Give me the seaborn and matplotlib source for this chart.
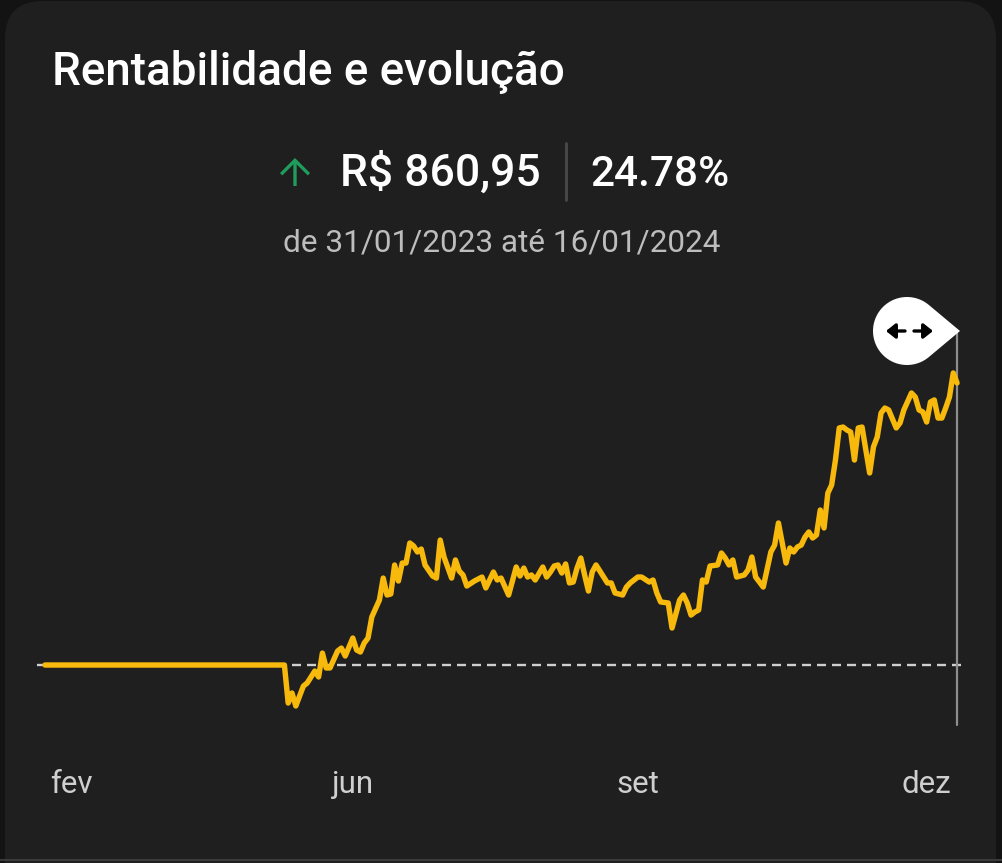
import numpy as np
import pandas as pd
import matplotlib
matplotlib.use("Agg")
import matplotlib.pyplot as plt
import seaborn as sns
from matplotlib.patches import FancyBboxPatch, Polygon, FancyArrowPatch
from matplotlib.lines import Line2D
from matplotlib.transforms import IdentityTransform

# ---------------- data ----------------
title_text = "Rentabilidade e evolução"
amount_label = "R$ 860,95"
pct_label = "24.78%"
period_label = "de 31/01/2023 até 16/01/2024"
month_labels = ["fev", "jun", "set", "dez"]
month_positions = [7, 81, 156, 232]

days = [0, 63, 64, 65, 66, 68, 69, 71, 72, 73, 74, 75, 77, 78, 79, 81, 82, 83, 84, 85,
        86, 88, 89, 90, 91, 92, 93, 94, 95, 96, 97, 98, 99, 100, 102, 103, 104, 105, 107, 108,
        109, 110, 111, 113, 115, 116, 118, 119, 120, 122, 124, 125, 126, 127, 128, 129, 131, 132, 133, 134,
        135, 136, 137, 138, 139, 140, 141, 142, 143, 144, 145, 147, 148, 149, 150, 152, 153, 154, 156, 157,
        159, 160, 161, 162, 164, 165, 167, 168, 169, 170, 171, 172, 173, 174, 175, 177, 178, 179, 180, 181,
        182, 184, 185, 186, 187, 189, 191, 192, 193, 195, 196, 197, 198, 199, 200, 201, 202, 203, 204, 205,
        206, 207, 208, 209, 210, 211, 212, 213, 214, 215, 217, 218, 219, 220, 221, 222, 224, 225, 226, 228,
        229, 230, 231, 232, 233, 234, 235, 236, 237, 238, 239, 240]

returns = [0.00, 0.00, -3.34, -2.46, -3.60, -1.85, -1.58, -0.53, -1.05, 1.05, -0.26, -0.26, 1.23, 1.49, 0.79, 2.37, 1.32, 1.14, 1.93, 2.37,
           4.22, 5.71, 7.64, 6.15, 6.24, 8.79, 7.38, 8.96, 8.96, 10.72, 10.46, 9.93, 10.19, 8.79, 7.82, 7.64, 10.98, 9.49, 7.64, 9.23,
           8.26, 7.91, 6.94, 7.38, 7.73, 6.77, 8.17, 7.47, 7.64, 6.15, 8.61, 7.82, 8.52, 7.73, 7.91, 7.47, 8.61, 7.73, 8.17, 8.70,
           8.79, 8.08, 8.88, 7.21, 7.29, 8.52, 9.40, 7.91, 6.50, 8.17, 8.79, 7.73, 7.21, 7.21, 6.33, 6.15, 6.85, 7.21, 7.73, 7.73,
           7.29, 7.47, 6.33, 5.54, 5.45, 3.25, 5.71, 6.15, 5.45, 4.39, 4.66, 4.83, 7.47, 7.29, 8.70, 8.79, 9.84, 9.40, 8.79, 9.23,
           7.73, 7.91, 8.35, 9.49, 7.73, 6.85, 9.93, 10.54, 12.48, 8.96, 10.28, 9.93, 10.37, 10.54, 11.25, 11.69, 11.16, 11.42, 13.62, 12.04,
           15.11, 15.82, 18.01, 20.83, 20.91, 20.65, 20.47, 18.01, 20.83, 20.91, 16.87, 19.16, 20.04, 22.14, 22.58, 22.41, 20.83, 21.27, 22.41, 23.90,
           23.55, 22.41, 22.23, 21.35, 23.11, 23.29, 21.70, 21.70, 22.58, 23.55, 25.66, 24.78]

df = pd.DataFrame({"day": days, "ret": returns})

# ---------------- style ----------------
W, H = 1002, 863
sns.set_theme(style="dark", rc={
    "axes.facecolor": "#1f1f1f",
    "figure.facecolor": "#131313",
    "axes.edgecolor": "#1f1f1f",
})
plt.rcParams["font.family"] = ["Roboto", "DejaVu Sans"]
plt.rcParams["lines.scale_dashes"] = False

CARD = "#1f1f1f"
YELLOW = "#F7B90C"

fig = plt.figure(figsize=(W / 100, H / 100), dpi=100)
fig.patch.set_facecolor("#131313")

card = FancyBboxPatch((5, -100), 991, H - 1 + 100,
                      boxstyle="round,pad=0,rounding_size=38",
                      transform=IdentityTransform(), fc=CARD, ec="none", zorder=0)
fig.add_artist(card)
fig.add_artist(Line2D([0, W], [H - 860, H - 860], transform=IdentityTransform(),
                      color="#3a3a3a", lw=1.5, zorder=1))

def fx(x):
    return x / W

def fy(y):
    return 1 - y / H

# header texts
fig.text(fx(52), fy(85), title_text, color="white", fontsize=33, fontweight="medium",
         ha="left", va="baseline")
fig.add_artist(FancyArrowPatch((295, H - 186), (295, H - 158), transform=IdentityTransform(),
                               arrowstyle="->,head_length=0.5,head_width=0.5",
                               mutation_scale=20, color="#1f9d5c", lw=2.4,
                               shrinkA=0, shrinkB=0, capstyle="butt", joinstyle="miter"))
fig.text(fx(340), fy(186), amount_label, color="white", fontsize=32, fontweight="medium",
         ha="left", va="baseline")
fig.add_artist(Line2D([566, 566], [H - 143, H - 200], transform=IdentityTransform(),
                      color="#4a4a4a", lw=2))
fig.text(fx(590), fy(186), pct_label, color="white", fontsize=30.5, fontweight="medium",
         ha="left", va="baseline")
fig.text(fx(502), fy(252), period_label, color="#bdbdbd", fontsize=22.7,
         ha="center", va="baseline")

# ---------------- chart ----------------
ax = fig.add_axes([fx(37), fy(730), (962 - 37) / W, 440 / H])
ax.patch.set_alpha(0)

ax.axhline(0, color="#cfcfcf", lw=1.7, linestyle=(0, (6.5, 4.3)), zorder=1)
sns.lineplot(data=df, x="day", y="ret", ax=ax, color=YELLOW, linewidth=3.9,
             zorder=3, legend=False)

ax.set_xlim(-2.1, 241.3)
ax.set_ylim(-5.71, 32.95)
ax.axvline(days[-1], ymin=5 / 440, ymax=400 / 440, color="#8e8e8e", lw=1.6, zorder=2)

ax.set_xticks(month_positions, month_labels)
ax.set_yticks([])
ax.set_xlabel("")
ax.set_ylabel("")
ax.tick_params(axis="x", length=0, pad=29, labelsize=22.5, colors="#cfcfcf")
for s in ax.spines.values():
    s.set_visible(False)

# drag handle (teardrop)
cx, cy, r = 907, H - 331, 34
tipx = 960
d = tipx - cx
th = np.arccos(r / d)
ang = np.linspace(th, 2 * np.pi - th, 80)
pts = np.column_stack([cx + r * np.cos(ang), cy + r * np.sin(ang)])
pts = np.vstack([pts, [tipx, cy]])
fig.add_artist(Polygon(pts, closed=True, transform=IdentityTransform(), fc="white",
                       ec="none", zorder=5))
for a, b in [((905, H - 331), (886, H - 331)), ((914, H - 331), (933, H - 331))]:
    fig.add_artist(FancyArrowPatch(a, b, transform=IdentityTransform(),
                                   arrowstyle="-|>,head_length=0.5,head_width=0.4",
                                   mutation_scale=11, color="black", lw=2.4,
                                   shrinkA=0, shrinkB=0, zorder=6))

fig.savefig("out.png", dpi=100, facecolor=fig.get_facecolor())
